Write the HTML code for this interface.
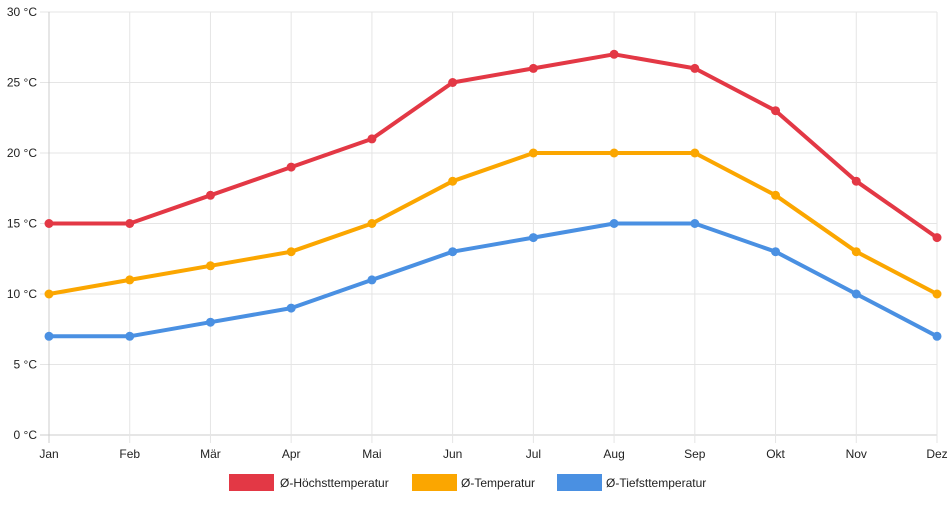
<!DOCTYPE html>
<html><head><meta charset="utf-8"><style>
body{margin:0;background:#fff;font-family:"Liberation Sans",sans-serif}
svg text{font-family:"Liberation Sans",sans-serif;font-size:12px;fill:#222}
</style></head><body>
<svg width="952" height="500">
<g id="grid"></g>
<g id="axes"></g>
<g id="series"></g>
<g>
<rect x="229" y="474" width="45" height="17" fill="#e33845"/>
<text x="280" y="487">Ø-Höchsttemperatur</text>
<rect x="412" y="474" width="45" height="17" fill="#fba600"/>
<text x="461" y="487">Ø-Temperatur</text>
<rect x="557" y="474" width="45" height="17" fill="#4a90e2"/>
<text x="606" y="487">Ø-Tiefsttemperatur</text>
</g>
</svg>
<script>
const months=["Jan","Feb","Mär","Apr","Mai","Jun","Jul","Aug","Sep","Okt","Nov","Dez"];
const high=[15,15,17,19,21,25,26,27,26,23,18,14];
const avg=[10,11,12,13,15,18,20,20,20,17,13,10];
const low=[7,7,8,9,11,13,14,15,15,13,10,7];
const yTicks=[0,5,10,15,20,25,30];
const NS="http://www.w3.org/2000/svg";
const x0=49,x1=937,yTop=12,yBot=435,yMax=30;
const X=i=>x0+i*(x1-x0)/(months.length-1);
const Y=v=>yBot-v/yMax*(yBot-yTop);
function mk(t,a,p){const e=document.createElementNS(NS,t);for(const k in a)e.setAttribute(k,a[k]);p.appendChild(e);return e;}
const grid=document.getElementById('grid'),axes=document.getElementById('axes'),ser=document.getElementById('series');
yTicks.forEach(v=>{
 const l=mk('line',{x1:40,x2:x1,y1:Y(v),y2:Y(v),stroke:v===0?'#ccc':'#e5e5e5'},grid);
 
 
 const t=mk('text',{x:37,y:Y(v)+4,'text-anchor':'end'},axes);t.textContent=v+' °C';
 
 
});
months.forEach((m,i)=>{
 const l=mk('line',{x1:X(i),x2:X(i),y1:yTop,y2:yBot+8,stroke:i===0?'#ccc':'#e5e5e5'},grid);
 
 
 const t=mk('text',{x:X(i),y:yBot+23,'text-anchor':'middle'},axes);t.textContent=m;
 
 
});
[[high,'#e33845','high'],[avg,'#fba600','avg'],[low,'#4a90e2','low']].forEach(([d,c,n])=>{
 const p=mk('polyline',{points:d.map((v,i)=>X(i)+','+Y(v)).join(' '),fill:'none',stroke:c,'stroke-width':4,'stroke-linejoin':'round'},ser);
 
 
 d.forEach((v,i)=>{
  const ci=mk('circle',{cx:X(i),cy:Y(v),r:4.5,fill:c},ser);
  
  
 });
});
</script>
</body></html>
